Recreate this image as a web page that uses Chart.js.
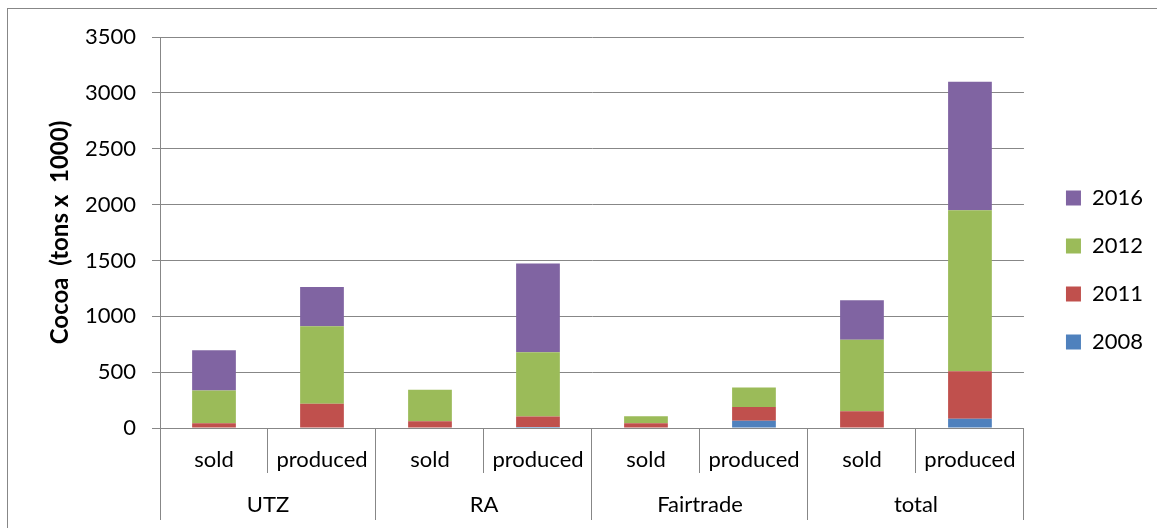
<!DOCTYPE html>
<html>
<head>
<meta charset="utf-8">
<script src="https://cdn.jsdelivr.net/npm/chart.js@4/dist/chart.umd.min.js"></script>
<style>
    html, body { margin: 0; padding: 0; background: #fff; }
    #wrap { width: 1157px; height: 528px; position: relative; }
</style>
</head>
<body>
<div id="wrap"><canvas id="cocoaChart"></canvas></div>
<script>
// Datos
const categorias = ['sold', 'produced', 'sold', 'produced', 'sold', 'produced', 'sold', 'produced'];
const grupos = ['UTZ', 'RA', 'Fairtrade', 'total'];

const y2008 = [0, 0, 0, 10, 0, 64, 0, 82];
const y2011 = [43, 217, 61, 93, 43, 123, 151, 427];
const y2012 = [293, 693, 281, 574, 63, 176, 639, 1441];
const y2016 = [359, 352, 0, 795, 0, 0, 353, 1149];

const ejeY = { min: 0, max: 3500, step: 500 };

const GRIS = '#878787';
const FUENTE = 'Lato, "Open Sans", sans-serif';

// Marco exterior del grafico (como en Excel)
const marco = {
    id: 'marco',
    beforeDraw(chart) {
        const ctx = chart.ctx;
        ctx.save();
        ctx.strokeStyle = GRIS;
        ctx.lineWidth = 1;
        ctx.strokeRect(7.5, 8.5, 1300, 700);
        ctx.restore();
    }
};

const serie = (label, data, color) => ({
    label: label,
    data: data,
    backgroundColor: color,
    borderWidth: 0,
    barPercentage: 0.405,
    categoryPercentage: 1
});

new Chart(document.getElementById('cocoaChart'), {
    type: 'bar',
    data: {
        labels: categorias,
        datasets: [
            serie('2008', y2008, '#4F81BD'),
            serie('2011', y2011, '#C0504D'),
            serie('2012', y2012, '#9BBB59'),
            serie('2016', y2016, '#8064A2')
        ]
    },
    options: {
        responsive: true,
        maintainAspectRatio: false,
        animation: false,
        layout: { padding: { top: 37, bottom: 0, left: 0, right: 4 } },
        plugins: {
            tooltip: { enabled: false },
            legend: {
                position: 'right',
                align: 'start',
                reverse: true,
                title: { display: true, text: '', font: { size: 10, lineHeight: 1 }, padding: { top: 114, bottom: 0 } },
                labels: {
                    color: '#000',
                    font: { family: FUENTE, size: 22 },
                    boxWidth: 15,
                    boxHeight: 15,
                    padding: 26
                }
            }
        },
        scales: {
            x: {
                stacked: true,
                offset: true,
                afterFit: s => { s.height = 45; },
                grid: { display: true, drawOnChartArea: false, offset: true, tickLength: 45, color: GRIS },
                border: { display: true, color: GRIS },
                ticks: { color: '#000', font: { family: FUENTE, size: 22 }, padding: -26, autoSkip: false, maxRotation: 0 }
            },
            x2: {
                type: 'category',
                labels: grupos,
                position: 'bottom',
                offset: true,
                afterFit: s => { s.height = 55; },
                grid: { display: true, drawOnChartArea: false, offset: true, tickLength: 47, color: GRIS },
                border: { display: false },
                ticks: { color: '#000', font: { family: FUENTE, size: 22 }, padding: -28, autoSkip: false, maxRotation: 0 }
            },
            y: {
                stacked: true,
                min: ejeY.min,
                max: ejeY.max,
                afterFit: s => { s.width = 160; },
                grid: { color: GRIS, tickLength: 8 },
                border: { display: true, color: GRIS },
                ticks: {
                    stepSize: ejeY.step,
                    color: '#000',
                    font: { family: FUENTE, size: 22 },
                    padding: 16,
                    callback: v => String(v)
                },
                title: {
                    display: true,
                    text: 'Cocoa  (tons x  1000)',
                    color: '#000',
                    font: { family: FUENTE, size: 24, weight: 'bold' },
                    padding: { top: 46, bottom: 0 }
                }
            },
            yR: {
                position: 'right',
                display: true,
                afterFit: s => { s.width = 16; },
                grid: { display: false },
                border: { display: false },
                ticks: { display: false }
            }
        }
    },
    plugins: [marco]
});
</script>
</body>
</html>
